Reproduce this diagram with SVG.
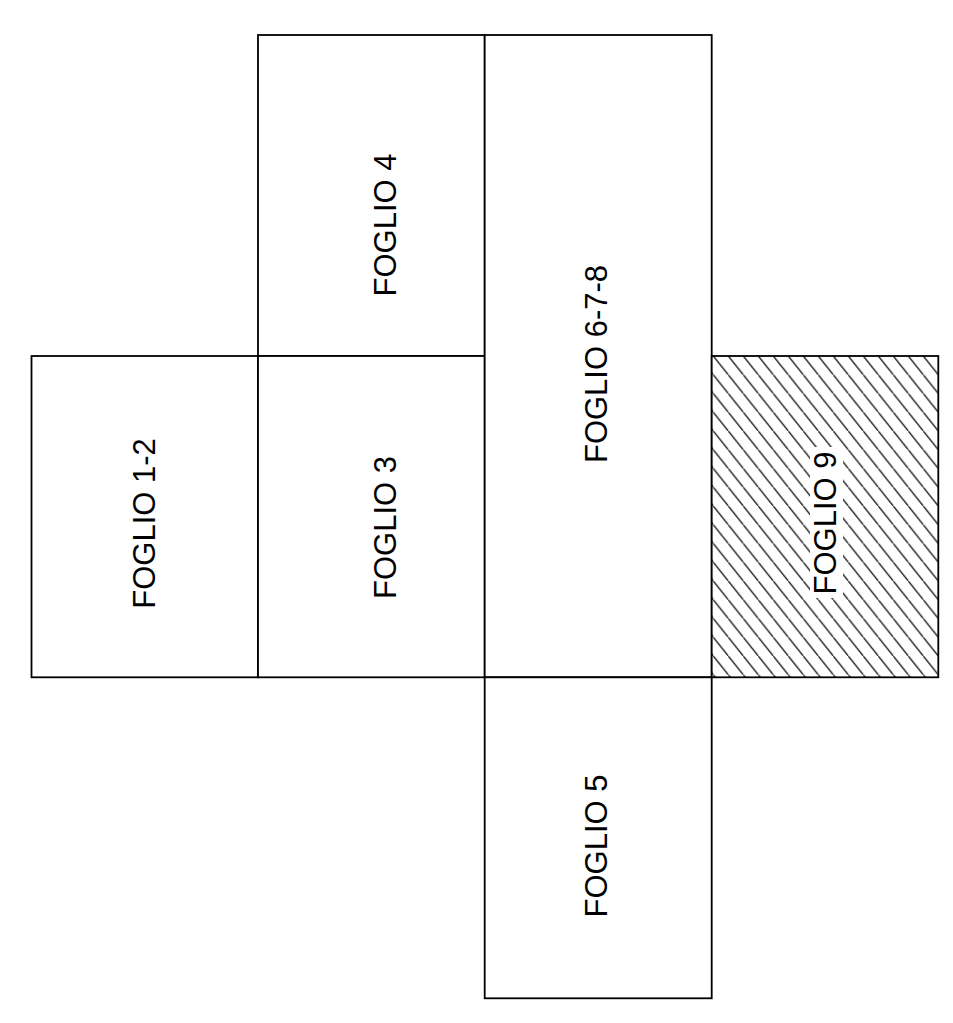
<svg xmlns="http://www.w3.org/2000/svg" width="953" height="1023" viewBox="0 0 953 1023">
  <style>
    .box { fill: #ffffff; stroke: #000000; stroke-width: 1.8; }
    .lbl { font-family: "Liberation Sans", Arial, sans-serif; font-size: 31px; fill: #000000; text-anchor: middle; }
  </style>
  <defs>
    <pattern id="hatch" patternUnits="userSpaceOnUse" x="713.3" y="356" width="15" height="18.75">
      <line x1="-1" y1="-1.25" x2="16" y2="20" stroke="#000000" stroke-width="1.2"/>
    </pattern>
  </defs>
  <rect width="953" height="1023" fill="#ffffff"/>
  <g id="foglio-1-2">
    <rect class="box" x="31.5" y="356" width="226.5" height="321.3"/>
    <text class="lbl" transform="translate(155,523.5) rotate(-90)">FOGLIO 1-2</text>
  </g>
  <g id="foglio-4">
    <rect class="box" x="258" y="35" width="226.7" height="321"/>
    <text class="lbl" transform="translate(396,225) rotate(-90)">FOGLIO 4</text>
  </g>
  <g id="foglio-3">
    <rect class="box" x="258" y="356" width="226.7" height="321.3"/>
    <text class="lbl" transform="translate(396,527.5) rotate(-90)">FOGLIO 3</text>
  </g>
  <g id="foglio-6-7-8">
    <rect class="box" x="484.7" y="35" width="227" height="642.3"/>
    <text class="lbl" transform="translate(606.5,364) rotate(-90)">FOGLIO 6-7-8</text>
  </g>
  <g id="foglio-9">
    <rect x="711.7" y="356" width="226.6" height="321.3" fill="#ffffff"/>
    <rect x="711.7" y="356" width="226.6" height="321.3" fill="url(#hatch)"/>
    <rect x="810" y="447" width="33" height="151" fill="#ffffff"/>
    <rect x="711.7" y="356" width="226.6" height="321.3" fill="none" stroke="#000000" stroke-width="1.8"/>
    <text class="lbl" transform="translate(836,523) rotate(-90)">FOGLIO 9</text>
  </g>
  <g id="foglio-5">
    <rect class="box" x="484.7" y="677.3" width="227" height="321"/>
    <text class="lbl" transform="translate(606.5,846) rotate(-90)">FOGLIO 5</text>
  </g>
  <g id="connectors"></g>
</svg>
